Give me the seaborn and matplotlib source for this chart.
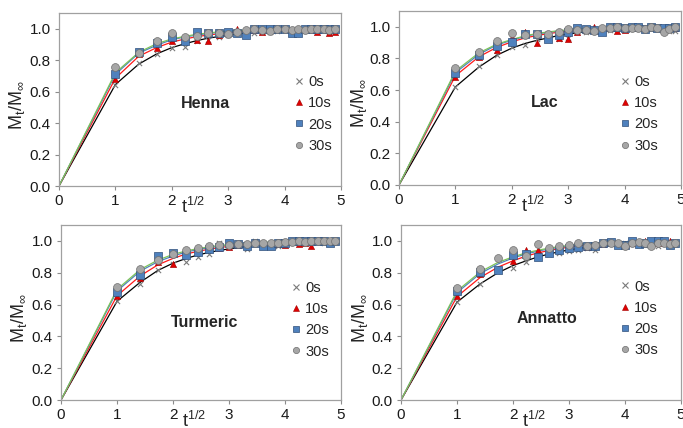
import numpy as np
import pandas as pd
import matplotlib
matplotlib.use("Agg")
import matplotlib.pyplot as plt
from matplotlib.lines import Line2D
import seaborn as sns

# Sampling times (min); the x axis is the square root of time
times = list(range(25))
series = ["0s", "10s", "20s", "30s"]
dyes = ["Henna", "Lac", "Turmeric", "Annatto"]

# Measured uptake Mt/Minf at t = 1..24 min
henna_pts = {
    "0s":  [0.64, 0.78, 0.84, 0.88, 0.885, 0.92, 0.93, 0.95, 0.96, 0.97, 0.96, 0.97, 0.98, 0.98, 0.985, 0.99, 0.97, 0.98, 0.99, 0.99, 0.99, 1.0, 0.98, 0.99],
    "10s": [0.68, 0.84, 0.88, 0.92, 0.92, 0.93, 0.925, 0.96, 0.97, 1.0, 0.98, 0.99, 0.98, 0.99, 1.0, 1.0, 0.99, 0.99, 1.0, 1.0, 0.98, 1.0, 0.97, 0.98],
    "20s": [0.71, 0.85, 0.91, 0.95, 0.92, 0.98, 0.97, 0.975, 0.98, 0.97, 0.96, 1.0, 1.0, 1.0, 1.0, 1.0, 0.97, 0.975, 1.0, 1.0, 1.0, 1.0, 1.0, 1.0],
    "30s": [0.755, 0.845, 0.925, 0.975, 0.95, 0.955, 0.975, 0.97, 0.965, 0.98, 0.99, 1.0, 0.99, 0.985, 1.0, 1.0, 0.99, 1.0, 0.99, 1.0, 1.0, 1.0, 0.99, 1.0],
}
lac_pts = {
    "0s":  [0.62, 0.75, 0.825, 0.87, 0.885, 0.92, 0.925, 0.925, 0.93, 0.97, 0.97, 0.975, 0.98, 0.98, 0.985, 0.99, 0.99, 1.0, 0.99, 1.0, 0.99, 0.98, 0.975, 0.975],
    "10s": [0.68, 0.81, 0.855, 0.935, 0.97, 0.895, 0.925, 0.93, 0.925, 0.97, 0.98, 1.0, 0.98, 0.99, 0.975, 0.98, 1.0, 0.99, 0.99, 1.0, 0.99, 0.99, 0.99, 0.99],
    "20s": [0.71, 0.82, 0.88, 0.905, 0.955, 0.955, 0.925, 0.95, 0.97, 0.995, 0.985, 0.98, 0.97, 1.0, 1.0, 0.995, 1.0, 1.0, 0.985, 1.0, 0.99, 0.99, 0.995, 1.0],
    "30s": [0.74, 0.84, 0.91, 0.96, 0.95, 0.955, 0.955, 0.965, 0.985, 0.98, 0.98, 0.975, 0.99, 0.995, 1.0, 0.99, 0.99, 0.99, 0.985, 1.0, 0.99, 0.97, 0.985, 1.0],
}
turmeric_pts = {
    "0s":  [0.62, 0.73, 0.82, 0.855, 0.865, 0.9, 0.92, 0.985, 0.96, 0.98, 0.95, 1.0, 0.98, 0.98, 0.97, 0.98, 1.0, 1.0, 0.99, 1.0, 1.0, 0.99, 0.99, 1.0],
    "10s": [0.655, 0.765, 0.87, 0.855, 0.92, 0.935, 0.95, 0.955, 0.96, 0.975, 0.98, 0.99, 0.97, 0.98, 0.98, 0.975, 1.0, 0.98, 0.99, 0.97, 1.0, 1.0, 0.99, 1.0],
    "20s": [0.68, 0.785, 0.905, 0.925, 0.91, 0.93, 0.95, 0.96, 0.985, 0.98, 0.965, 0.99, 0.965, 0.965, 0.99, 0.99, 1.0, 1.0, 1.0, 1.0, 1.0, 1.0, 0.985, 1.0],
    "30s": [0.71, 0.825, 0.88, 0.915, 0.94, 0.955, 0.965, 0.975, 0.975, 0.98, 0.98, 0.99, 0.985, 0.99, 0.99, 0.995, 0.995, 1.0, 0.995, 1.0, 1.0, 1.0, 1.0, 1.0],
}
annatto_pts = {
    "0s":  [0.615, 0.73, 0.815, 0.83, 0.865, 0.905, 0.92, 0.925, 0.935, 0.945, 0.955, 0.94, 0.985, 0.985, 0.98, 0.985, 0.99, 0.975, 0.975, 0.99, 0.965, 0.99, 0.98, 0.99],
    "10s": [0.655, 0.79, 0.825, 0.875, 0.94, 0.945, 0.95, 0.955, 0.965, 0.97, 0.96, 0.97, 0.98, 0.99, 0.985, 0.98, 0.99, 0.985, 1.0, 0.985, 0.99, 0.99, 1.0, 0.995],
    "20s": [0.685, 0.805, 0.82, 0.91, 0.92, 0.9, 0.925, 0.94, 0.955, 0.96, 0.965, 0.965, 0.99, 0.995, 0.975, 0.975, 1.0, 0.98, 0.99, 1.0, 1.0, 1.0, 0.975, 0.99],
    "30s": [0.705, 0.825, 0.895, 0.94, 0.905, 0.98, 0.955, 0.97, 0.975, 0.99, 0.97, 0.975, 0.985, 0.99, 0.99, 0.97, 0.99, 0.995, 0.985, 0.97, 0.99, 0.985, 0.98, 0.99],
}

# Fitted diffusion curves at t = 0..24 min
henna_fit = {
    "0s":  [0, .645, .775, .84, .88, .905, .925, .94, .95, .96, .967, .972, .977, .981, .984, .987, .989, .991, .992, .993, .994, .995, .996, .997, .997],
    "10s": [0, .685, .825, .88, .915, .935, .95, .96, .968, .975, .98, .984, .987, .99, .992, .993, .995, .996, .996, .997, .998, .998, .998, .999, .999],
    "20s": [0, .71, .845, .895, .93, .948, .96, .97, .977, .982, .986, .989, .991, .993, .995, .996, .997, .997, .998, .998, .999, .999, .999, .999, 1.0],
    "30s": [0, .72, .85, .905, .935, .952, .965, .973, .98, .985, .988, .991, .993, .995, .996, .997, .997, .998, .998, .999, .999, .999, 1.0, 1.0, 1.0],
}
lac_fit = {
    "0s":  [0, .62, .745, .82, .865, .895, .915, .93, .945, .955, .962, .968, .973, .977, .981, .984, .986, .988, .99, .991, .992, .993, .994, .995, .996],
    "10s": [0, .69, .81, .87, .905, .93, .945, .957, .966, .973, .978, .982, .986, .988, .99, .992, .993, .995, .996, .996, .997, .997, .998, .998, .999],
    "20s": [0, .71, .825, .885, .915, .94, .955, .965, .973, .979, .983, .987, .99, .992, .993, .995, .996, .996, .997, .998, .998, .998, .999, .999, .999],
    "30s": [0, .72, .835, .89, .92, .943, .958, .968, .975, .981, .985, .988, .991, .993, .994, .995, .996, .997, .998, .998, .999, .999, .999, .999, 1.0],
}
turmeric_fit = {
    "0s":  [0, .62, .74, .815, .86, .89, .912, .928, .94, .95, .958, .965, .97, .975, .979, .982, .985, .987, .989, .99, .992, .993, .994, .995, .995],
    "10s": [0, .655, .78, .85, .89, .918, .935, .948, .958, .966, .972, .977, .981, .984, .987, .989, .991, .992, .993, .994, .995, .996, .996, .997, .997],
    "20s": [0, .685, .81, .87, .905, .93, .946, .958, .967, .974, .979, .983, .986, .989, .991, .992, .994, .995, .996, .996, .997, .997, .998, .998, .998],
    "30s": [0, .695, .82, .88, .915, .937, .952, .963, .971, .977, .982, .986, .988, .99, .992, .994, .995, .996, .996, .997, .998, .998, .998, .999, .999],
}
annatto_fit = {
    "0s":  [0, .615, .73, .80, .845, .875, .9, .918, .932, .943, .952, .96, .966, .971, .975, .979, .982, .985, .987, .989, .99, .992, .993, .994, .995],
    "10s": [0, .65, .77, .835, .875, .905, .925, .94, .952, .961, .968, .974, .979, .982, .985, .988, .99, .991, .993, .994, .995, .996, .996, .997, .997],
    "20s": [0, .675, .795, .855, .893, .918, .936, .95, .96, .968, .975, .98, .984, .987, .989, .991, .993, .994, .995, .996, .997, .997, .998, .998, .998],
    "30s": [0, .685, .805, .865, .9, .925, .942, .955, .964, .972, .978, .982, .986, .989, .991, .993, .994, .995, .996, .997, .997, .998, .998, .999, .999],
}

points = {"Henna": henna_pts, "Lac": lac_pts, "Turmeric": turmeric_pts, "Annatto": annatto_pts}
fits = {"Henna": henna_fit, "Lac": lac_fit, "Turmeric": turmeric_fit, "Annatto": annatto_fit}

sns.set_theme(style="white")
plt.rcParams["font.family"] = ["Liberation Sans", "DejaVu Sans"]
plt.rcParams["mathtext.fontset"] = "custom"
plt.rcParams["mathtext.rm"] = "Liberation Sans"
plt.rcParams["mathtext.it"] = "Liberation Sans"

line_colors = {"0s": "#000000", "10s": "#ff1a1a", "20s": "#4f81bd", "30s": "#7cc35a"}
mk_style = {
    "0s":  dict(marker="x", s=14, color="#7a7a7a", linewidths=0.8),
    "10s": dict(marker="^", s=20, color="#e00000", edgecolor="#a00000", linewidths=0.4),
    "20s": dict(marker="s", s=30, color="#4f81bd", edgecolor="#2f4f7a", linewidths=0.5),
    "30s": dict(marker="o", s=32, color="#a6a6a6", edgecolor="#6f6f6f", linewidths=0.5),
}

fig = plt.figure(figsize=(6.83, 4.28), dpi=100)
px = lambda l, t, r, b: [l / 683, (428 - b) / 428, (r - l) / 683, (b - t) / 428]
axes_px = {
    "Henna": px(59, 13, 341, 186),
    "Lac": px(399, 11, 681, 185),
    "Turmeric": px(61, 225, 341, 400),
    "Annatto": px(401, 225, 681, 400),
}
label_pos = {"Henna": (2.6, 0.525), "Lac": (2.58, 0.52), "Turmeric": (2.57, 0.49), "Annatto": (2.61, 0.515)}
legend_anchor = {"Henna": (0.837, 0.642), "Lac": (0.787, 0.633), "Turmeric": (0.825, 0.682), "Annatto": (0.786, 0.688)}
ylabel_x = {"Henna": -0.115, "Lac": -0.105, "Turmeric": -0.115, "Annatto": -0.112}

sqrt_t = np.sqrt(np.array(times, dtype=float))

for dye in dyes:
    ax = fig.add_axes(axes_px[dye])
    fit_df = pd.DataFrame(
        [(sqrt_t[i], fits[dye][s][i], s) for s in series for i in range(len(times))],
        columns=["x", "y", "series"],
    )
    sns.lineplot(data=fit_df, x="x", y="y", hue="series", hue_order=series,
                 palette=line_colors, linewidth=0.9, legend=False, ax=ax, sort=False)
    for s in series:
        pts_df = pd.DataFrame({"x": sqrt_t[1:], "y": points[dye][s]})
        sns.scatterplot(data=pts_df, x="x", y="y", ax=ax, legend=False, zorder=3, **mk_style[s])

    ax.set_xlim(0, 5)
    ax.set_ylim(0, 1.1)
    ax.set_xticks(range(6))
    ax.set_yticks(np.arange(0, 1.01, 0.2))
    ax.set_yticklabels([f"{v:.1f}" for v in np.arange(0, 1.01, 0.2)])
    ax.set_xlabel("")
    ax.set_ylabel("M$_\\mathregular{t}$/M$_\\infty$", fontsize=13)
    ax.yaxis.set_label_coords(ylabel_x[dye], 0.47)
    ax.tick_params(axis="both", labelsize=11, colors="#8c8c8c", labelcolor="#1a1a1a",
                   length=3, width=0.8, pad=3, direction="out", bottom=True, left=True)
    for sp in ax.spines.values():
        sp.set_color("#a0a0a0")
        sp.set_linewidth(0.9)

    ax.text(2.37, -0.155, "t$^\\mathregular{1/2}$", transform=ax.get_xaxis_transform(),
            ha="center", va="baseline", fontsize=13)
    ax.text(*label_pos[dye], dye, ha="center", va="center", fontsize=11.5, fontweight="bold")

    handles = []
    for s in series:
        st = mk_style[s]
        handles.append(Line2D([], [], linestyle="none", marker=st["marker"],
                              markersize=4.5 if s in ("20s", "30s") else 4,
                              markerfacecolor=st["color"], color=st["color"],
                              markeredgecolor=st.get("edgecolor", st["color"]),
                              markeredgewidth=st["linewidths"]))
    ax.legend(handles, series, loc="upper left", bbox_to_anchor=legend_anchor[dye],
              frameon=False, fontsize=10.5, handlelength=0.6, handletextpad=0.3,
              labelspacing=0.5, borderpad=0, borderaxespad=0)

fig.savefig("out.png", dpi=100)
